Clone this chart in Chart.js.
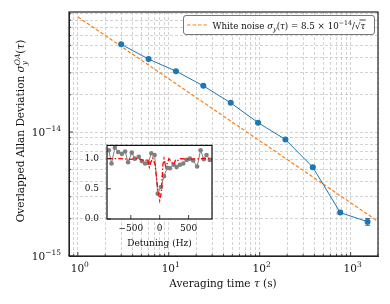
<!DOCTYPE html>
<html>
<head>
<meta charset="utf-8">
<script src="https://cdn.jsdelivr.net/npm/chart.js@4.4.1/dist/chart.umd.min.js"></script>
<style>
  html, body { margin: 0; padding: 0; background: #fff; }
  #wrap { position: relative; width: 390px; height: 304px; }
  #main { position: absolute; left: 0; top: 0; }
  #inset { position: absolute; left: 77px; top: 132px; }
</style>
</head>
<body>
<div id="wrap">
  <canvas id="main" width="390" height="304"></canvas>
  <canvas id="inset" width="139" height="120"></canvas>
</div>
<script>
// main plot: overlapped Allan deviation
const tau = [3, 6, 12, 24, 48, 96, 192, 384, 768, 1536];
const adev = [5.1e-14, 3.88e-14, 3.1e-14, 2.36e-14, 1.72e-14, 1.19e-14, 8.7e-15, 5.2e-15, 2.24e-15, 1.89e-15];
const adevErr = [0.3e-15, 0.25e-15, 0.22e-15, 0.2e-15, 0.17e-15, 0.14e-15, 0.12e-15, 0.09e-15, 0.06e-15, 0.12e-15];
const whiteTau = [1, 2000];
const whiteDev = [8.5e-14, 1.9e-15];
const xMajor = [1, 10, 100, 1000];
const xMajorExp = ["0", "1", "2", "3"];
const yMajor = [1e-15, 1e-14];
const yMajorExp = ["\u221215", "\u221214"];

// inset: spectroscopy dip
const detuning = [-880, -834, -776, -719, -655, -598, -547, -483, -431, -362, -310, -253, -197, -145, -88, -34,
  22, 74, 131, 178, 241, 293, 350, 407, 466, 522, 579, 648, 707, 764, 810, 867];
const transmission = [1.14, 0.92, 1.18, 1.11, 1.08, 1.12, 0.94, 1.10, 1.00, 1.03, 0.96, 0.92, 0.93, 1.09, 1.06, 0.42,
  0.53, 0.71, 0.85, 0.84, 0.90, 0.86, 0.90, 0.92, 0.98, 1.00, 0.97, 0.87, 1.14, 0.99, 1.06, 0.98];
const fitDetuning = [-900, -700, -500, -400, -300, -250, -210, -180, -150, -120, -80, -40, 0, 30, 55, 75, 100, 130,
  160, 200, 240, 280, 320, 360, 500, 700, 900];
const fitTransmission = [1.0, 1.0, 0.99, 1.0, 0.98, 0.96, 1.0, 0.86, 0.95, 1.01, 0.9, 0.55, 0.31, 0.45, 0.9, 1.0,
  0.88, 0.92, 1.0, 0.95, 0.9, 0.99, 0.97, 1.0, 0.99, 1.0, 1.0];
const insetXTicks = [-500, 0, 500];
const insetYTicks = [0, 0.5, 1.0];

const SERIF = '"DejaVu Serif", serif';
const f = (size, style) => (style ? style + " " : "") + size + "px " + SERIF;

function logTicks(min, max) {
  const out = [];
  for (let e = Math.floor(Math.log10(min)); e <= Math.ceil(Math.log10(max)); e++) {
    for (let m = 1; m < 10; m++) {
      const v = m * Math.pow(10, e);
      if (v >= min * 0.999 && v <= max * 1.001) out.push(v);
    }
  }
  return out;
}

// draws text made of pieces (sub/superscripts, italics)
function drawRich(ctx, parts, x, y, align) {
  let total = 0;
  const widths = parts.map((p) => {
    ctx.font = p.f;
    const w = ctx.measureText(p.t).width;
    if (p.adv !== false) total += w;
    return w;
  });
  let cx = align === "center" ? x - total / 2 : align === "right" ? x - total : x;
  ctx.textAlign = "left";
  ctx.textBaseline = "alphabetic";
  parts.forEach((p, i) => {
    ctx.font = p.f;
    ctx.fillText(p.t, cx, y + (p.dy || 0));
    if (p.over) {
      ctx.save();
      ctx.lineWidth = 0.8;
      ctx.strokeStyle = ctx.fillStyle;
      ctx.beginPath();
      ctx.moveTo(cx - 1, y - 8.5);
      ctx.lineTo(cx + widths[i] + 0.5, y - 8.5);
      ctx.stroke();
      ctx.restore();
    }
    if (p.adv !== false) cx += widths[i];
  });
}

const mainDecor = {
  id: "mainDecor",
  afterDatasetsDraw(chart) {
    const { ctx, scales } = chart;
    ctx.save();
    ctx.strokeStyle = "#1f77b4";
    ctx.lineWidth = 1;
    tau.forEach((t, i) => {
      const px = scales.x.getPixelForValue(t);
      const y1 = scales.y.getPixelForValue(adev[i] - adevErr[i]);
      const y2 = scales.y.getPixelForValue(adev[i] + adevErr[i]);
      ctx.beginPath();
      ctx.moveTo(px, y1); ctx.lineTo(px, y2);
      ctx.moveTo(px - 2.5, y1); ctx.lineTo(px + 2.5, y1);
      ctx.moveTo(px - 2.5, y2); ctx.lineTo(px + 2.5, y2);
      ctx.stroke();
    });
    ctx.restore();
  },
  afterDraw(chart) {
    const { ctx, chartArea: a, scales } = chart;
    ctx.save();
    // frame
    ctx.strokeStyle = "#222";
    ctx.lineWidth = 1.2;
    ctx.strokeRect(a.left, a.top, a.right - a.left, a.bottom - a.top);
    // inward ticks
    ctx.lineWidth = 0.8;
    logTicks(0.8, 2000).forEach((v) => {
      const px = scales.x.getPixelForValue(v);
      const len = xMajor.includes(v) ? 4 : 2;
      ctx.beginPath(); ctx.moveTo(px, a.bottom); ctx.lineTo(px, a.bottom - len); ctx.stroke();
    });
    logTicks(1e-15, 9.3e-14).forEach((v) => {
      const py = scales.y.getPixelForValue(v);
      const len = yMajor.some((m) => Math.abs(m - v) / m < 1e-6) ? 4 : 2;
      ctx.beginPath(); ctx.moveTo(a.left, py); ctx.lineTo(a.left + len, py); ctx.stroke();
    });
    // tick labels
    ctx.fillStyle = "#111";
    xMajor.forEach((v, i) => {
      const px = scales.x.getPixelForValue(v);
      drawRich(ctx, [{ t: "10", f: f(10.5) }, { t: xMajorExp[i], f: f(7.5), dy: -5 }], px + 2, 272, "center");
    });
    yMajor.forEach((v, i) => {
      const py = scales.y.getPixelForValue(v);
      drawRich(ctx, [{ t: "10", f: f(10.5) }, { t: yMajorExp[i], f: f(7.5), dy: -5 }], 61, py + 4, "right");
    });
    // axis titles
    drawRich(ctx, [{ t: "Averaging time ", f: f(10.5) }, { t: "\u03c4", f: f(10.5, "italic") }, { t: " (s)", f: f(10.5) }],
      223, 287, "center");
    ctx.save();
    ctx.translate(24, 131);
    ctx.rotate(-Math.PI / 2);
    drawRich(ctx, [
      { t: "Overlapped Allan Deviation ", f: f(10.5) },
      { t: "\u03c3", f: f(10.5, "italic") },
      { t: "y", f: f(7.5, "italic"), dy: 2.5, adv: false },
      { t: "OA", f: f(7.5, "italic"), dy: -4.5 },
      { t: "(", f: f(10.5) },
      { t: "\u03c4", f: f(10.5, "italic") },
      { t: ")", f: f(10.5) },
    ], 0, 0, "center");
    ctx.restore();
    // legend
    ctx.fillStyle = "rgba(255,255,255,0.85)";
    ctx.strokeStyle = "#555";
    ctx.lineWidth = 0.8;
    ctx.beginPath();
    ctx.roundRect(183.5, 15.5, 191, 19, 2.5);
    ctx.fill(); ctx.stroke();
    ctx.strokeStyle = "#ff7f0e";
    ctx.lineWidth = 1.2;
    ctx.setLineDash([3.5, 2]);
    ctx.beginPath(); ctx.moveTo(187, 25); ctx.lineTo(207, 25); ctx.stroke();
    ctx.setLineDash([]);
    ctx.fillStyle = "#111";
    drawRich(ctx, [
      { t: "White noise ", f: f(8.7) },
      { t: "\u03c3", f: f(8.7, "italic") },
      { t: "y", f: f(6.3, "italic"), dy: 2.5 },
      { t: "(", f: f(8.7) },
      { t: "\u03c4", f: f(8.7, "italic") },
      { t: ") = 8.5 \u00d7 10", f: f(8.7) },
      { t: "\u221214", f: f(6.3), dy: -4 },
      { t: "/\u221a", f: f(8.7) },
      { t: "\u03c4", f: f(8.7, "italic"), over: true },
    ], 212.5, 28.5, "left");
    ctx.restore();
  },
};

new Chart(document.getElementById("main"), {
  type: "line",
  data: {
    datasets: [
      {
        data: tau.map((t, i) => ({ x: t, y: adev[i] })),
        borderColor: "#1f77b4",
        backgroundColor: "#1f77b4",
        borderWidth: 1,
        pointRadius: 3,
        pointBorderWidth: 0,
        order: 0,
      },
      {
        data: whiteTau.map((t, i) => ({ x: t, y: whiteDev[i] })),
        borderColor: "#ff7f0e",
        borderWidth: 1.2,
        borderDash: [3.5, 2],
        pointRadius: 0,
        order: 1,
      },
    ],
  },
  options: {
    responsive: false,
    animation: false,
    devicePixelRatio: 1,
    layout: { padding: { left: 0, top: 12, right: 12, bottom: 0 } },
    plugins: { legend: { display: false }, tooltip: { enabled: false } },
    scales: {
      x: {
        type: "logarithmic",
        min: 0.8,
        max: 2000,
        afterBuildTicks: (s) => { s.ticks = logTicks(0.8, 2000).map((v) => ({ value: v })); },
        afterFit: (s) => { s.height = 48; },
        ticks: { display: false },
        grid: { color: "#c8c8c8", lineWidth: 0.8, drawTicks: false },
        border: { display: true, color: "#222", width: 1, dash: [3, 2] },
      },
      y: {
        type: "logarithmic",
        min: 1e-15,
        max: 9.3e-14,
        afterBuildTicks: (s) => { s.ticks = logTicks(1e-15, 9.3e-14).map((v) => ({ value: v })); },
        afterFit: (s) => { s.width = 69; },
        ticks: { display: false },
        grid: { color: "#c8c8c8", lineWidth: 0.8, drawTicks: false },
        border: { display: true, color: "#222", width: 1, dash: [3, 2] },
      },
    },
  },
  plugins: [mainDecor],
});

const insetDecor = {
  id: "insetDecor",
  beforeDraw(chart) {
    const { ctx, chartArea: a } = chart;
    ctx.save();
    ctx.fillStyle = "#fff";
    ctx.fillRect(a.left, a.top, a.right - a.left, a.bottom - a.top);
    ctx.restore();
  },
  afterDraw(chart) {
    const { ctx, chartArea: a, scales } = chart;
    ctx.save();
    ctx.strokeStyle = "#111";
    ctx.lineWidth = 1.2;
    ctx.strokeRect(a.left, a.top, a.right - a.left, a.bottom - a.top);
    ctx.lineWidth = 0.8;
    insetXTicks.forEach((v) => {
      const px = scales.x.getPixelForValue(v);
      ctx.beginPath(); ctx.moveTo(px, a.bottom); ctx.lineTo(px, a.bottom - 4); ctx.stroke();
    });
    insetYTicks.forEach((v) => {
      const py = scales.y.getPixelForValue(v);
      ctx.beginPath(); ctx.moveTo(a.left, py); ctx.lineTo(a.left + 4, py); ctx.stroke();
    });
    ctx.fillStyle = "#111";
    drawRich(ctx, [{ t: "Detuning (Hz)", f: f(9) }], (a.left + a.right) / 2, 114, "center");
    ctx.restore();
  },
};

new Chart(document.getElementById("inset"), {
  type: "line",
  data: {
    datasets: [
      {
        data: fitDetuning.map((d, i) => ({ x: d, y: fitTransmission[i] })),
        borderColor: "#ff0000",
        borderWidth: 1.3,
        borderDash: [5, 2, 1.5, 2],
        pointRadius: 0,
        order: 0,
      },
      {
        data: detuning.map((d, i) => ({ x: d, y: transmission[i] })),
        borderColor: "#808080",
        backgroundColor: "#808080",
        borderWidth: 1,
        pointRadius: 2.3,
        pointBorderWidth: 0,
        order: 1,
      },
    ],
  },
  options: {
    responsive: false,
    animation: false,
    devicePixelRatio: 1,
    layout: { padding: { left: 0, top: 5, right: 4, bottom: 0 } },
    plugins: { legend: { display: false }, tooltip: { enabled: false } },
    scales: {
      x: {
        type: "linear",
        min: -912,
        max: 905,
        afterBuildTicks: (s) => { s.ticks = insetXTicks.map((v) => ({ value: v })); },
        afterFit: (s) => { s.height = 33; },
        ticks: {
          color: "#111",
          font: { family: SERIF, size: 9 },
          padding: 4,
          maxRotation: 0,
          callback: (v) => (v < 0 ? "\u2212" + Math.abs(v) : String(v)),
        },
        grid: { display: false, drawTicks: false },
        border: { display: false },
      },
      y: {
        type: "linear",
        min: 0,
        max: 1.22,
        afterBuildTicks: (s) => { s.ticks = insetYTicks.map((v) => ({ value: v })); },
        afterFit: (s) => { s.width = 30; },
        ticks: {
          color: "#111",
          font: { family: SERIF, size: 9 },
          padding: 8,
          callback: (v) => v.toFixed(1),
        },
        grid: { display: false, drawTicks: false },
        border: { display: false },
      },
    },
  },
  plugins: [insetDecor],
});
</script>
</body>
</html>
